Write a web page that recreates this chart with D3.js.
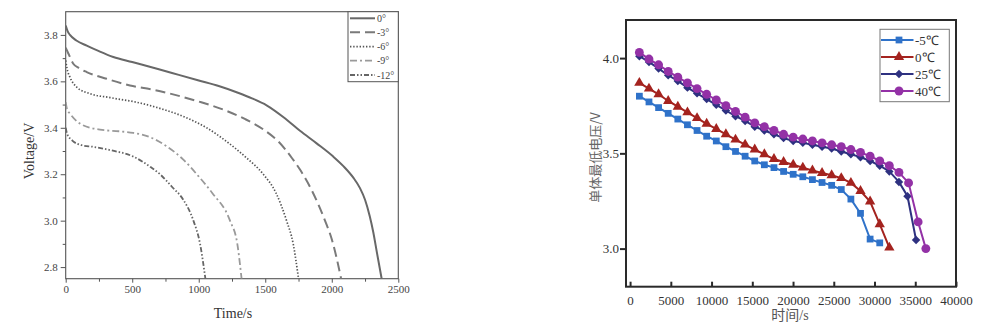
<!DOCTYPE html>
<html><head><meta charset="utf-8">
<script src="https://cdn.jsdelivr.net/npm/d3@7"></script>
<style>body{margin:0;background:#fff}svg{display:block}</style>
</head><body><svg id="c" width="1003" height="325"></svg>
<script>
// ---- Left panel: discharge voltage vs time at several ambient temperatures ----
const leftLabels = ["0°", "-3°", "-6°", "-9°", "-12°"];
const leftXTicks = [0, 500, 1000, 1500, 2000, 2500];
const leftYTicks = [2.8, 3.0, 3.2, 3.4, 3.6, 3.8];
const curve0 = [[0,3.84],[15,3.815],[32,3.8],[80,3.776],[158,3.754],[250,3.73],[358,3.705],[500,3.683],[700,3.652],[850,3.628],[1000,3.604],[1150,3.58],[1300,3.55],[1400,3.527],[1510,3.497],[1650,3.44],[1761,3.387],[1886,3.333],[2011,3.276],[2087,3.235],[2162,3.185],[2212,3.14],[2250,3.09],[2285,3.02],[2312,2.95],[2340,2.86],[2375,2.75]];
const curveM3 = [[0,3.745],[20,3.72],[57,3.676],[100,3.657],[158,3.64],[308,3.611],[483,3.582],[650,3.565],[800,3.545],[1000,3.513],[1200,3.475],[1350,3.437],[1485,3.393],[1600,3.34],[1700,3.27],[1761,3.22],[1850,3.13],[1949,3.0],[2000,2.92],[2040,2.83],[2070,2.75]];
const curveM6 = [[0,3.69],[10,3.655],[32,3.618],[83,3.575],[183,3.547],[333,3.53],[533,3.51],[700,3.485],[900,3.445],[1059,3.4],[1200,3.345],[1350,3.275],[1485,3.2],[1580,3.12],[1660,3.0],[1710,2.9],[1750,2.75]];
const curveM9 = [[0,3.51],[10,3.48],[32,3.461],[108,3.418],[258,3.392],[400,3.385],[508,3.378],[633,3.36],[759,3.32],[884,3.263],[985,3.2],[1100,3.12],[1235,3.0],[1290,2.9],[1322,2.75]];
const curveM12 = [[0,3.40],[10,3.375],[50,3.345],[120,3.325],[208,3.318],[333,3.304],[508,3.276],[633,3.233],[709,3.2],[800,3.145],[884,3.09],[960,3.0],[1010,2.9],[1050,2.75]];

// ---- Right panel: lowest cell voltage vs time ----
const rightLabels = ["-5℃", "0℃", "25℃", "40℃"];
const rightXTicks = [0, 5000, 10000, 15000, 20000, 25000, 30000, 35000, 40000];
const rightYTicks = [3.0, 3.5, 4.0];
const timesM5 = [1140,2320,3500,4680,5860,7040,8220,9400,10580,11760,12940,14120,15300,16480,17660,18840,20020,21200,22380,23560,24740,25920,27100,28280,29460,30640];
const voltsM5 = [3.80,3.77,3.74,3.71,3.68,3.65,3.62,3.59,3.565,3.535,3.51,3.485,3.46,3.44,3.425,3.405,3.39,3.377,3.362,3.347,3.332,3.31,3.26,3.185,3.05,3.03];
const times0 = [1140,2320,3500,4680,5860,7040,8220,9400,10580,11760,12940,14120,15300,16480,17660,18840,20020,21200,22380,23560,24740,25920,27100,28280,29460,30640,31820];
const volts0 = [3.87,3.84,3.81,3.775,3.745,3.715,3.685,3.655,3.628,3.60,3.572,3.546,3.52,3.495,3.47,3.455,3.44,3.425,3.41,3.397,3.385,3.37,3.345,3.302,3.247,3.128,3.005];
const times25 = [1140,2320,3500,4680,5860,7040,8220,9400,10580,11760,12940,14120,15300,16480,17660,18840,20020,21200,22380,23560,24740,25920,27100,28280,29460,30640,31820,33000,34050,35100];
const volts25 = [4.01,3.98,3.945,3.91,3.88,3.845,3.815,3.785,3.755,3.725,3.695,3.67,3.64,3.62,3.60,3.58,3.565,3.555,3.545,3.535,3.525,3.51,3.495,3.48,3.46,3.435,3.405,3.35,3.275,3.045];
const times40 = [1140,2320,3500,4680,5860,7040,8220,9400,10580,11760,12940,14120,15300,16480,17660,18840,20020,21200,22380,23560,24740,25920,27100,28280,29460,30640,31820,33000,34180,35350,36300];
const volts40 = [4.03,3.995,3.965,3.93,3.90,3.87,3.84,3.81,3.78,3.75,3.72,3.69,3.66,3.64,3.62,3.60,3.585,3.575,3.565,3.555,3.545,3.535,3.52,3.505,3.485,3.46,3.435,3.40,3.345,3.14,3.0];

const svg = d3.select("#c");
const serif = "'Liberation Serif','Times New Roman',serif";

// ================= Left panel =================
const L = {left: 65.7, right: 398.3, top: 11.7, bottom: 278.7};
const xL = d3.scaleLinear().domain([0, 2500]).range([L.left, L.right]);
const yL = d3.scaleLinear().domain([2.75, 3.9]).range([L.bottom, L.top]);
const gL = svg.append("g");
const axisColor = "#555";

svg.append("defs").append("clipPath").attr("id", "clipL")
  .append("rect").attr("x", L.left).attr("y", L.top)
  .attr("width", L.right - L.left).attr("height", L.bottom - L.top);

function styleAxis(g, color, size) {
  g.select(".domain").remove();
  g.selectAll("line").attr("stroke", color).attr("stroke-width", 1);
  g.selectAll("text").attr("fill", "#444").attr("font-family", serif).attr("font-size", size);
}

// bottom axis: major + minor ticks (outward)
gL.append("g").attr("transform", `translate(0,${L.bottom})`)
  .call(d3.axisBottom(xL).tickValues(leftXTicks).tickSize(4).tickPadding(3).tickFormat(d3.format("d")))
  .call(g => styleAxis(g, axisColor, 11));
gL.append("g").attr("transform", `translate(0,${L.bottom})`)
  .call(d3.axisBottom(xL).tickValues(d3.range(250, 2500, 500)).tickSize(3).tickFormat(""))
  .call(g => styleAxis(g, axisColor, 11));
// left axis: major + minor ticks (outward)
gL.append("g").attr("transform", `translate(${L.left},0)`)
  .call(d3.axisLeft(yL).tickValues(leftYTicks).tickSize(5).tickPadding(3).tickFormat(d3.format(".1f")))
  .call(g => styleAxis(g, axisColor, 11));
gL.append("g").attr("transform", `translate(${L.left},0)`)
  .call(d3.axisLeft(yL).tickValues([2.9, 3.1, 3.3, 3.5, 3.7]).tickSize(3).tickFormat(""))
  .call(g => styleAxis(g, axisColor, 11));

// frame
gL.append("rect").attr("x", L.left).attr("y", L.top)
  .attr("width", L.right - L.left).attr("height", L.bottom - L.top)
  .attr("fill", "none").attr("stroke", axisColor).attr("stroke-width", 1.1);

const leftSeries = [
  {data: curve0,  color: "#686868", width: 2.0, dash: null},
  {data: curveM3, color: "#7a7a7a", width: 2.0, dash: "10,5"},
  {data: curveM6, color: "#555555", width: 1.7, dash: "1.4,1.8"},
  {data: curveM9, color: "#9a9a9a", width: 1.8, dash: "7,3,2,3"},
  {data: curveM12, color: "#666666", width: 1.8, dash: "5,2,1.5,2,1.5,2"}
];
const lineL = d3.line().x(d => xL(d[0])).y(d => yL(d[1])).curve(d3.curveMonotoneX);
const plotL = gL.append("g").attr("clip-path", "url(#clipL)");
leftSeries.forEach(s => {
  plotL.append("path").datum(s.data).attr("d", lineL)
    .attr("fill", "none").attr("stroke", s.color).attr("stroke-width", s.width)
    .attr("stroke-dasharray", s.dash);
});

// legend
const legL = gL.append("g");
legL.append("rect").attr("x", 348).attr("y", L.top).attr("width", L.right - 348).attr("height", 70)
  .attr("fill", "#fff").attr("stroke", axisColor).attr("stroke-width", 1);
const legLY = [18.3, 32.3, 46.7, 60.7, 75];
leftSeries.forEach((s, i) => {
  legL.append("line").attr("x1", 350).attr("x2", 375).attr("y1", legLY[i]).attr("y2", legLY[i])
    .attr("stroke", s.color).attr("stroke-width", s.width).attr("stroke-dasharray", s.dash);
  legL.append("text").attr("x", 377).attr("y", legLY[i]).attr("dy", "0.35em")
    .attr("font-family", serif).attr("font-size", 10).attr("fill", "#444").text(leftLabels[i]);
});

// axis titles
gL.append("text").attr("x", 233).attr("y", 318).attr("text-anchor", "middle")
  .attr("font-family", serif).attr("font-size", 14).attr("fill", "#333").text("Time/s");
gL.append("text").attr("transform", "translate(29.5,151) rotate(-90)").attr("text-anchor", "middle")
  .attr("dy", "0.35em").attr("font-family", serif).attr("font-size", 14).attr("fill", "#333").text("Voltage/V");

// ================= Right panel =================
const R = {left: 626, right: 956, top: 20, bottom: 286.7};
const xR = d3.scaleLinear().domain([-500, 40000]).range([R.left, R.right]);
const yR = d3.scaleLinear().domain([2.8, 4.2]).range([R.bottom, R.top]);
const gR = svg.append("g");
const frameColor = "#2a2a2a";

gR.append("g").attr("transform", `translate(0,${R.bottom})`)
  .call(d3.axisBottom(xR).tickValues(rightXTicks).tickSizeInner(-5).tickSizeOuter(0).tickPadding(9).tickFormat(d3.format("d")))
  .call(g => { styleAxis(g, frameColor, 13); g.selectAll("line").attr("stroke-width", 2); g.selectAll("text").attr("fill", "#333"); });
gR.append("g").attr("transform", `translate(${R.left},0)`)
  .call(d3.axisLeft(yR).tickValues(rightYTicks).tickSize(6).tickPadding(1).tickFormat(d3.format(".1f")))
  .call(g => { styleAxis(g, frameColor, 13); g.selectAll("line").attr("stroke-width", 2); g.selectAll("text").attr("fill", "#333"); });

gR.append("rect").attr("x", R.left).attr("y", R.top)
  .attr("width", R.right - R.left).attr("height", R.bottom - R.top)
  .attr("fill", "none").attr("stroke", frameColor).attr("stroke-width", 2);

const rightSeries = [
  {t: timesM5, v: voltsM5, color: "#2f72c9", symbol: d3.symbolSquare, size: 46, rot: 0},
  {t: times0,  v: volts0,  color: "#a4231f", symbol: d3.symbolTriangle, size: 46, rot: 0},
  {t: times25, v: volts25, color: "#2e3180", symbol: d3.symbolSquare, size: 36, rot: 45},
  {t: times40, v: volts40, color: "#9331a6", symbol: d3.symbolCircle, size: 62, rot: 0}
];
const lineR = d3.line().x(d => xR(d[0])).y(d => yR(d[1]));
rightSeries.forEach(s => {
  const pts = s.t.map((t, i) => [t, s.v[i]]);
  const g = gR.append("g");
  g.append("path").datum(pts).attr("d", lineR).attr("fill", "none")
    .attr("stroke", s.color).attr("stroke-width", 2);
  g.selectAll("path.m").data(pts).join("path").attr("class", "m")
    .attr("d", d3.symbol().type(s.symbol).size(s.size))
    .attr("transform", d => `translate(${xR(d[0])},${yR(d[1])}) rotate(${s.rot})`)
    .attr("fill", s.color);
});

// legend
const legR = gR.append("g");
legR.append("rect").attr("x", 880).attr("y", 29.3).attr("width", 69.3).attr("height", 72.4)
  .attr("fill", "#fff").attr("stroke", "#777").attr("stroke-width", 1);
const legRY = [40, 57, 74, 91];
rightSeries.forEach((s, i) => {
  legR.append("line").attr("x1", 881).attr("x2", 913.5).attr("y1", legRY[i]).attr("y2", legRY[i])
    .attr("stroke", s.color).attr("stroke-width", 2);
  legR.append("path").attr("d", d3.symbol().type(s.symbol).size(s.size))
    .attr("transform", `translate(899,${legRY[i]}) rotate(${s.rot})`).attr("fill", s.color);
  legR.append("text").attr("x", 915).attr("y", legRY[i]).attr("dy", "0.35em")
    .attr("font-family", serif).attr("font-size", 13).attr("fill", "#333").text(rightLabels[i]);
});

// axis titles
gR.append("text").attr("x", 790).attr("y", 320).attr("text-anchor", "middle")
  .attr("font-family", "'Liberation Serif','Noto Sans CJK SC',serif").attr("font-size", 14)
  .attr("fill", "#555").text("时间/s");
gR.append("text").attr("transform", "translate(595,157.5) rotate(-90)").attr("text-anchor", "middle")
  .attr("dy", "0.35em").attr("font-family", "'Noto Sans CJK SC',sans-serif").attr("font-size", 13)
  .attr("fill", "#666").text("单体最低电压/V");
</script></body></html>
